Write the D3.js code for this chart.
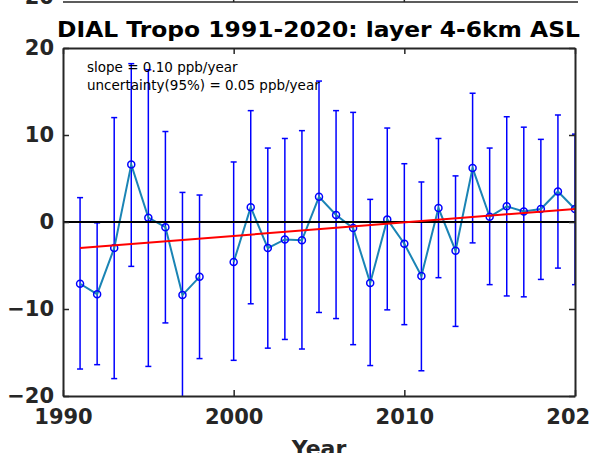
<!DOCTYPE html>
<html>
<head>
<meta charset="utf-8">
<script src="https://cdn.jsdelivr.net/npm/d3@7"></script>
<style>
  body { margin: 0; background: #fff; }
  svg { display: block; font-family: "DejaVu Sans", sans-serif; }
</style>
</head>
<body>
<script>
// values
const years = [1991, 1992, 1993, 1994, 1995, 1996, 1997, 1998,
  2000, 2001, 2002, 2003, 2004, 2005, 2006, 2007, 2008, 2009, 2010,
  2011, 2012, 2013, 2014, 2015, 2016, 2017, 2018, 2019, 2020];
const means = [-7.1, -8.3, -3.0, 6.6, 0.5, -0.6, -8.4, -6.3,
  -4.6, 1.7, -3.0, -2.0, -2.1, 2.9, 0.8, -0.7, -7.0, 0.3, -2.5,
  -6.2, 1.6, -3.3, 6.2, 0.6, 1.8, 1.2, 1.5, 3.5, 1.5];
const upper = [2.8, -0.1, 12.0, 18.2, 17.5, 10.4, 3.4, 3.1,
  6.9, 12.8, 8.5, 9.6, 10.5, 16.2, 12.8, 12.6, 2.6, 10.8, 6.7,
  4.6, 9.6, 5.3, 14.8, 8.5, 12.1, 10.9, 9.5, 12.3, 10.1];
const lower = [-16.9, -16.4, -18.0, -5.1, -16.6, -11.6, -21.0, -15.7,
  -15.9, -9.4, -14.5, -13.5, -14.6, -10.4, -11.1, -14.1, -16.5, -10.1, -11.8,
  -17.1, -6.4, -12.0, -2.4, -7.2, -8.5, -8.6, -6.6, -5.3, -7.2];
const trendYears = [1991, 2020];
const trendValues = [-3.0, 1.5];
const xTicks = [1990, 2000, 2010, 2020];
const yTicks = [-20, -10, 0, 10, 20];
const title = "DIAL Tropo 1991-2020: layer 4-6km ASL";
const notes = ["slope = 0.10 ppb/year", "uncertainty(95%) = 0.05 ppb/year"];

const width = 590;
const height = 453;
const margin = { top: 48, right: 15, bottom: 57, left: 63 };
const axisColor = "#262626";

const svg = d3.select("body").append("svg")
  .attr("width", width)
  .attr("height", height);

const x = d3.scaleLinear().domain([1990, 2020]).range([margin.left, width - margin.right]);
const y = d3.scaleLinear().domain([-20, 20]).range([height - margin.bottom, margin.top]);

const data = years.map((yr, i) => ({ year: yr, mean: means[i], hi: upper[i], lo: lower[i] }));

svg.append("clipPath").attr("id", "plot-clip")
  .append("rect")
  .attr("x", x(1990)).attr("y", y(20))
  .attr("width", x(2020) - x(1990)).attr("height", y(-20) - y(20));

// bit of the previous subplot peeking in at the top
svg.append("line")
  .attr("x1", x(1990)).attr("x2", x(2020) + 3)
  .attr("y1", 2).attr("y2", 2)
  .attr("stroke", axisColor).attr("stroke-width", 1.5);
[2000, 2010].forEach(t => {
  svg.append("line")
    .attr("x1", x(t)).attr("x2", x(t))
    .attr("y1", 2).attr("y2", -4)
    .attr("stroke", axisColor).attr("stroke-width", 1.5);
});
svg.append("text")
  .attr("x", 54).attr("y", 4)
  .attr("text-anchor", "end")
  .attr("font-weight", "bold").attr("font-size", 21)
  .attr("fill", axisColor)
  .text("-20");

// title
svg.append("text")
  .attr("x", 57)
  .attr("y", 37)
  .attr("font-weight", "bold").attr("font-size", 22)
  .attr("textLength", 523).attr("lengthAdjust", "spacingAndGlyphs")
  .attr("fill", "#000")
  .text(title);

const plot = svg.append("g").attr("clip-path", "url(#plot-clip)");

// error bars
const bars = plot.selectAll(".ebar").data(data).enter().append("g").attr("class", "ebar")
  .attr("stroke", "#0000ff").attr("stroke-width", 1.5);
bars.append("line")
  .attr("x1", d => x(d.year)).attr("x2", d => x(d.year))
  .attr("y1", d => y(d.hi)).attr("y2", d => y(d.lo));
bars.append("line")
  .attr("x1", d => x(d.year) - 3).attr("x2", d => x(d.year) + 3)
  .attr("y1", d => y(d.hi)).attr("y2", d => y(d.hi));
bars.append("line")
  .attr("x1", d => x(d.year) - 3).attr("x2", d => x(d.year) + 3)
  .attr("y1", d => y(d.lo)).attr("y2", d => y(d.lo));

// series line, broken where 1999 is missing
const segs = [data.filter(d => d.year < 1999), data.filter(d => d.year > 1999)];
const line = d3.line().x(d => x(d.year)).y(d => y(d.mean));
plot.selectAll(".series").data(segs).enter().append("path")
  .attr("class", "series")
  .attr("d", line)
  .attr("fill", "none")
  .attr("stroke", "#1a84b5")
  .attr("stroke-width", 2);

plot.selectAll(".dot").data(data).enter().append("circle")
  .attr("class", "dot")
  .attr("cx", d => x(d.year)).attr("cy", d => y(d.mean))
  .attr("r", 3.5)
  .attr("fill", "none")
  .attr("stroke", "#0000ff")
  .attr("stroke-width", 1.5);

// zero line
plot.append("line")
  .attr("x1", x(1990)).attr("x2", x(2020))
  .attr("y1", y(0)).attr("y2", y(0))
  .attr("stroke", "#000").attr("stroke-width", 2);

// trend
plot.append("path")
  .datum(trendYears.map((t, i) => [t, trendValues[i]]))
  .attr("d", d3.line().x(d => x(d[0])).y(d => y(d[1])))
  .attr("stroke", "#ff0000").attr("stroke-width", 2).attr("fill", "none");

// axes, ticks pointing inward like matlab
const xAxis = d3.axisBottom(x).tickValues(xTicks).tickFormat(d3.format("d")).tickSizeInner(-6).tickSizeOuter(0).tickPadding(13);
const yAxis = d3.axisLeft(y).tickValues(yTicks).tickSizeInner(-6).tickSizeOuter(0).tickPadding(9);

const gx = svg.append("g").attr("transform", `translate(0,${y(-20)})`).call(xAxis);
const gy = svg.append("g").attr("transform", `translate(${x(1990)},0)`).call(yAxis);
const gxTop = svg.append("g").attr("transform", `translate(0,${y(20)})`)
  .call(d3.axisTop(x).tickValues(xTicks).tickFormat("").tickSizeInner(-6).tickSizeOuter(0));
const gyRight = svg.append("g").attr("transform", `translate(${x(2020)},0)`)
  .call(d3.axisRight(y).tickValues(yTicks).tickFormat("").tickSizeInner(-6).tickSizeOuter(0));

[gx, gy, gxTop, gyRight].forEach(g => {
  g.select(".domain").attr("stroke", axisColor).attr("stroke-width", 2);
  g.selectAll(".tick line").attr("stroke", axisColor).attr("stroke-width", 1.5);
  g.selectAll(".tick text")
    .attr("fill", axisColor)
    .attr("font-family", "DejaVu Sans, sans-serif")
    .attr("font-weight", "bold")
    .attr("font-size", 21);
});

// annotation
svg.append("text")
  .attr("x", 87).attr("y", 72)
  .attr("font-size", 13.5).attr("fill", "#000")
  .selectAll("tspan").data(notes).enter().append("tspan")
  .attr("x", 87).attr("dy", (d, i) => i === 0 ? 0 : 18)
  .text(d => d);

// x label, cut off by the window edge
svg.append("text")
  .attr("x", 319).attr("y", 456)
  .attr("text-anchor", "middle")
  .attr("font-weight", "bold").attr("font-size", 22)
  .attr("fill", axisColor)
  .text("Year");
</script>
</body>
</html>
